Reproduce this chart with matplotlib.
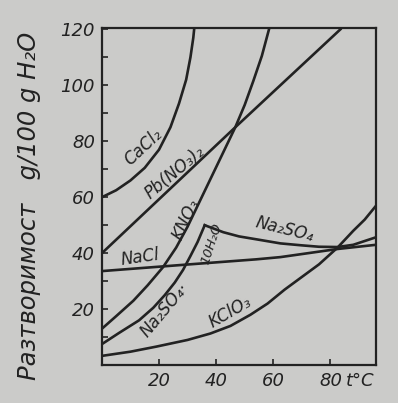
import matplotlib.pyplot as plt
import numpy as np

# solubility, g / 100 g H2O
cacl2_t = [0, 5, 10, 15, 20, 24, 27, 29.5, 31, 32, 32.3]
cacl2_s = [60, 62.5, 66, 70.5, 77, 85, 93.5, 102, 110, 117, 120]

pbno3_t = [0, 46.7, 83.5]
pbno3_s = [40, 85, 120]

kno3_t = [0, 5, 11, 16, 21.4, 26, 30, 34, 38, 42, 46.7, 50, 53, 56, 58.5]
kno3_s = [13, 17.5, 23, 28.5, 35, 42, 49.5, 58, 66.5, 75, 85, 93, 101.5, 110.5, 120]

nacl_t = [0, 28, 54, 62.5, 82.5, 96]
nacl_s = [33.6, 35.8, 37.8, 38.6, 41.5, 43]

na2so4_10_t = [0, 6, 13, 18, 22, 25.5, 28.4, 31, 33.5, 36]
na2so4_10_s = [7.5, 11.5, 16, 20.5, 25, 29.5, 34, 39, 44, 50]

na2so4_t = [36, 42.5, 48, 55, 62.5, 70, 76, 82.5, 88, 96]
na2so4_s = [50, 47.5, 46, 44.8, 43.5, 42.8, 42.3, 42.2, 43, 45.7]

kclo3_t = [0, 10, 19, 30, 38, 45, 52, 58, 64, 70, 76, 82.5, 88, 92, 96]
kclo3_s = [3.3, 4.8, 6.6, 9, 11.3, 14, 18, 22, 27, 31.5, 36, 42, 48, 52, 57]

xticks = [20, 40, 60, 80]
yticks = [20, 40, 60, 80, 100, 120]

bg = '#cbcbc9'
ink = '#222222'

fig = plt.figure(figsize=(3.98, 4.03), dpi=100, facecolor=bg)
ax = fig.add_axes([0.256, 0.094, 0.689, 0.836], facecolor=bg)

for t, s in [(cacl2_t, cacl2_s), (pbno3_t, pbno3_s), (kno3_t, kno3_s),
             (nacl_t, nacl_s), (na2so4_10_t, na2so4_10_s),
             (na2so4_t, na2so4_s), (kclo3_t, kclo3_s)]:
    ax.plot(t, s, color=ink, lw=1.9, solid_joinstyle='round')

ax.set_xlim(0, 96)
ax.set_ylim(0, 120.4)
ax.set_xticks(xticks)
ax.set_xticklabels([str(v) for v in xticks], fontstyle='italic', fontsize=13)
ax.set_yticks(yticks)
ax.set_yticklabels([str(v) for v in yticks], fontstyle='italic', fontsize=13)
ax.set_yticks(np.arange(10, 120, 20), minor=True)
ax.tick_params(direction='in', length=4, width=1.2, colors=ink, pad=5)
ax.tick_params(which='minor', direction='in', length=4, width=1.2, colors=ink)
for sp in ax.spines.values():
    sp.set_color(ink)
    sp.set_linewidth(1.6)

lab = dict(color=ink, fontstyle='italic', ha='center', va='center')
ax.text(14.4, 78, 'CaCl₂', rotation=43, fontsize=12, **lab)
ax.text(25.6, 69, 'Pb(NO₃)₂', rotation=40, fontsize=12, **lab)
ax.text(29.5, 52, 'KNO₃', rotation=65, fontsize=12, **lab)
ax.text(13.3, 38.5, 'NaCl', rotation=8, fontsize=12, **lab)
ax.text(22, 19.6, 'Na₂SO₄·', rotation=50, fontsize=12, **lab)
ax.text(38.5, 43.5, '10H₂O', rotation=72, fontsize=9.5, **lab)
ax.text(64, 48.5, 'Na₂SO₄', rotation=-14, fontsize=12, **lab)
ax.text(45, 19, 'KClO₃', rotation=30, fontsize=12, **lab)
ax.text(90.5, -5.5, 't°C', fontsize=13, **lab)

fig.text(0.072, 0.49, 'Разтворимост   g/100 g H₂O', rotation=90,
         color=ink, fontstyle='italic', fontsize=17.5, ha='center', va='center')

fig.savefig('out.png', dpi=100, facecolor=bg)
